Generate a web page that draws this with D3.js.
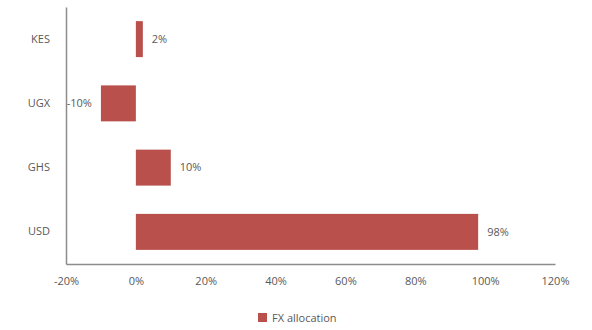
<!DOCTYPE html>
<html>
<head>
<meta charset="utf-8">
<script src="https://cdn.jsdelivr.net/npm/d3@7"></script>
<style>
  body { margin: 0; background: #fff; }
  text { font-family: "Open Sans", sans-serif; fill: #595959; font-size: 11px; }
</style>
</head>
<body>
<svg id="chart"></svg>
<script>
const categories = ['KES', 'UGX', 'GHS', 'USD']
const values = [2, -10, 10, 98]
const xTicks = [-20, 0, 20, 40, 60, 80, 100, 120]
const seriesName = 'FX allocation'

const width = 592, height = 330
const margin = { top: 7, right: 37, bottom: 66, left: 66 }
const color = '#b9504b'

const svg = d3.select('#chart')
    .attr('width', width)
    .attr('height', height)

const chart = svg.append('g')
    .attr('transform', `translate(${margin.left}, ${margin.top})`)

const innerW = width - margin.left - margin.right
const innerH = height - margin.top - margin.bottom

const xScale = d3.scaleLinear()
    .domain([-20, 120])
    .range([0, innerW])

const yScale = d3.scaleBand()
    .domain(categories)
    .range([0, innerH])
    .paddingInner(0.44)
    .paddingOuter(0.22)

// bars
chart.selectAll('.bar')
    .data(values)
    .join('rect')
        .attr('class', 'bar')
        .attr('fill', color)
        .attr('x', d => xScale(Math.min(0, d)))
        .attr('width', d => Math.abs(xScale(d) - xScale(0)))
        .attr('y', (d, i) => yScale(categories[i]))
        .attr('height', yScale.bandwidth())

// value labels
chart.selectAll('.val')
    .data(values)
    .join('text')
        .attr('class', 'val')
        .attr('x', d => d < 0 ? xScale(d) - 9 : xScale(d) + 9)
        .attr('y', (d, i) => yScale(categories[i]) + yScale.bandwidth() / 2)
        .attr('dy', '0.35em')
        .attr('text-anchor', d => d < 0 ? 'end' : 'start')
        .text(d => d + '%')

// axes
const xAxis = d3.axisBottom(xScale).tickValues(xTicks).tickSize(0).tickPadding(13).tickFormat(d => d + '%')
const yAxis = d3.axisLeft(yScale).tickSize(0).tickPadding(16)

chart.append('g')
    .attr('class', 'axis x-axis')
    .attr('transform', `translate(0, ${innerH})`)
    .call(xAxis)

chart.append('g')
    .attr('class', 'axis y-axis')
    .call(yAxis)

svg.selectAll('.axis path').attr('stroke', '#8c8c8c').attr('stroke-width', 1.5)
svg.selectAll('.axis text')
    .style('font-family', '"Open Sans", sans-serif')
    .style('font-size', '11px')
    .attr('fill', '#595959')

// legend
const legend = svg.append('g')
    .attr('transform', 'translate(258, 313)')
legend.append('rect')
    .attr('width', 9)
    .attr('height', 9)
    .attr('fill', color)
legend.append('text')
    .attr('x', 14)
    .attr('y', 5)
    .attr('dy', '0.35em')
    .text(seriesName)
</script>
</body>
</html>
